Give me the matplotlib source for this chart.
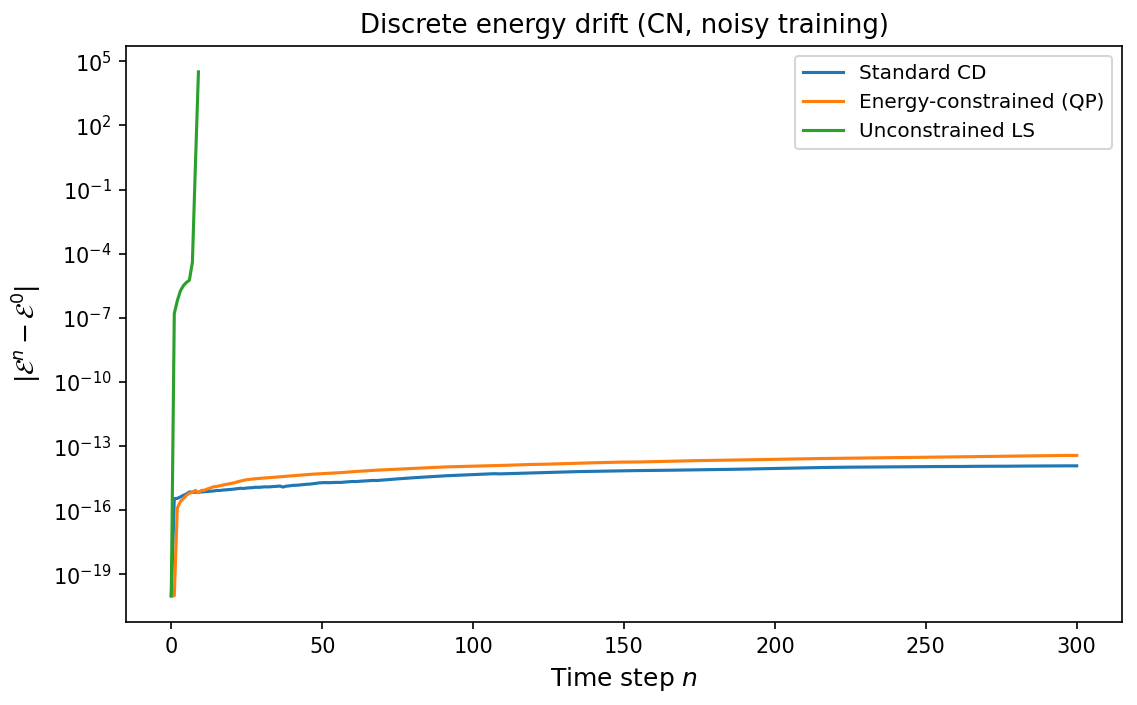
import numpy as np
import matplotlib
matplotlib.use("Agg")
import matplotlib.pyplot as plt
from matplotlib.ticker import FixedLocator, NullLocator, LogFormatterSciNotation

# values in units of 1e-15 (first entries are the 1e-20 floor)
standard_cd = [
    1e-5, 0.35, 0.36, 0.42, 0.50, 0.58, 0.72, 0.70, 0.70, 0.71,
    0.72, 0.74, 0.76, 0.78, 0.80, 0.85, 0.84, 0.88, 0.90, 0.92,
    0.95, 0.99, 1.03, 1.07, 1.05, 1.10, 1.12, 1.15, 1.20, 1.18,
    1.22, 1.25, 1.24, 1.26, 1.30, 1.32, 1.36, 1.22, 1.34, 1.38,
    1.45, 1.47, 1.50, 1.55, 1.60, 1.66, 1.68, 1.74, 1.82, 1.92,
    1.96, 1.98, 1.95, 1.97, 2.00, 2.02, 2.00, 2.05, 2.12, 2.18,
    2.22, 2.20, 2.26, 2.30, 2.35, 2.40, 2.45, 2.50, 2.46, 2.54,
    2.60, 2.66, 2.70, 2.76, 2.86, 2.95, 3.00, 3.08, 3.16, 3.24,
    3.30, 3.38, 3.45, 3.52, 3.60, 3.68, 3.76, 3.84, 3.92, 4.00,
    4.06, 4.12, 4.18, 4.25, 4.32, 4.40, 4.46, 4.52, 4.58, 4.64,
    4.70, 4.80, 4.88, 4.95, 5.02, 5.10, 5.12, 5.15, 5.10, 5.05,
    5.10, 5.18, 5.25, 5.30, 5.34, 5.38, 5.42, 5.46, 5.50, 5.55,
    5.62, 5.68, 5.70, 5.74, 5.80, 5.86, 5.92, 5.98, 6.04, 6.10,
    6.18, 6.24, 6.30, 6.35, 6.40, 6.46, 6.50, 6.55, 6.60, 6.64,
    6.68, 6.72, 6.76, 6.80, 6.84, 6.88, 6.92, 6.96, 7.00, 7.02,
    7.05, 7.08, 7.12, 7.15, 7.18, 7.20, 7.22, 7.25, 7.28, 7.30,
    7.33, 7.36, 7.40, 7.42, 7.45, 7.48, 7.50, 7.54, 7.58, 7.60,
    7.62, 7.66, 7.70, 7.74, 7.78, 7.82, 7.86, 7.90, 7.94, 7.98,
    8.02, 8.06, 8.10, 8.14, 8.18, 8.22, 8.26, 8.30, 8.32, 8.38,
    8.44, 8.50, 8.56, 8.62, 8.68, 8.74, 8.80, 8.86, 8.92, 8.98,
    9.05, 9.12, 9.18, 9.25, 9.32, 9.40, 9.46, 9.52, 9.58, 9.64,
    9.70, 9.76, 9.82, 9.88, 9.94, 10.0, 10.05, 10.1, 10.15, 10.2,
    10.25, 10.3, 10.32, 10.35, 10.38, 10.4, 10.42, 10.45, 10.48, 10.5,
    10.52, 10.55, 10.58, 10.6, 10.62, 10.65, 10.68, 10.7, 10.72, 10.75,
    10.78, 10.8, 10.82, 10.85, 10.88, 10.9, 10.92, 10.95, 10.98, 11.0,
    11.02, 11.05, 11.08, 11.1, 11.12, 11.15, 11.18, 11.2, 11.22, 11.25,
    11.2, 11.15, 11.2, 11.28, 11.32, 11.35, 11.38, 11.4, 11.42, 11.45,
    11.48, 11.5, 11.52, 11.55, 11.52, 11.48, 11.5, 11.55, 11.6, 11.62,
    11.65, 11.68, 11.7, 11.72, 11.75, 11.78, 11.8, 11.82, 11.84, 11.86,
    11.88, 11.9, 11.92, 11.94, 11.95, 11.96, 11.97, 11.98, 11.99, 12.0,
    12.0,
]

energy_qp = [
    1e-5, 1e-5, 0.126, 0.25, 0.35, 0.50, 0.63, 0.69, 0.85, 0.66,
    0.85, 0.87, 1.00, 1.10, 1.26, 1.30, 1.40, 1.50, 1.60, 1.70,
    1.80, 1.95, 2.15, 2.34, 2.50, 2.70, 2.80, 2.90, 3.00, 3.08,
    3.15, 3.22, 3.30, 3.40, 3.50, 3.60, 3.70, 3.80, 3.90, 4.00,
    4.10, 4.20, 4.30, 4.42, 4.55, 4.70, 4.80, 4.90, 5.00, 5.10,
    5.20, 5.28, 5.36, 5.45, 5.55, 5.65, 5.75, 5.90, 6.05, 6.20,
    6.35, 6.50, 6.65, 6.80, 6.95, 7.10, 7.25, 7.40, 7.52, 7.64,
    7.76, 7.88, 8.00, 8.12, 8.24, 8.36, 8.48, 8.60, 8.72, 8.85,
    9.00, 9.15, 9.30, 9.45, 9.60, 9.75, 9.90, 10.05, 10.2, 10.5,
    10.6, 10.7, 10.8, 10.9, 11.0, 11.1, 11.2, 11.3, 11.4, 11.5,
    11.6, 11.7, 11.8, 11.9, 12.0, 12.1, 12.2, 12.3, 12.4, 12.5,
    12.6, 12.7, 12.85, 13.0, 13.15, 13.3, 13.45, 13.6, 13.75, 13.9,
    14.0, 14.05, 14.1, 14.2, 14.3, 14.45, 14.6, 14.75, 14.9, 15.05,
    15.2, 15.35, 15.5, 15.65, 15.8, 15.95, 16.1, 16.25, 16.4, 16.55,
    16.7, 16.85, 17.0, 17.1, 17.2, 17.3, 17.45, 17.6, 17.75, 17.9,
    18.0, 18.05, 18.1, 18.15, 18.2, 18.2, 18.3, 18.45, 18.6, 18.75,
    18.9, 19.05, 19.2, 19.35, 19.5, 19.65, 19.8, 19.95, 20.1, 20.25,
    20.4, 20.55, 20.7, 20.85, 21.0, 21.1, 21.2, 21.3, 21.4, 21.5,
    21.6, 21.7, 21.8, 21.9, 22.0, 22.1, 22.2, 22.3, 22.4, 22.55,
    22.7, 22.85, 23.0, 23.15, 23.3, 23.45, 23.6, 23.75, 23.9, 24.05,
    24.2, 24.35, 24.5, 24.65, 24.8, 24.95, 25.1, 25.25, 25.4, 25.55,
    25.7, 25.85, 26.0, 26.1, 26.2, 26.3, 26.4, 26.5, 26.6, 26.75,
    26.85, 26.95, 27.05, 27.15, 27.25, 27.35, 27.45, 27.55, 27.65, 27.75,
    27.85, 27.95, 28.05, 28.15, 28.25, 28.35, 28.45, 28.55, 28.65, 28.75,
    28.85, 28.95, 29.05, 29.15, 29.25, 29.35, 29.45, 29.55, 29.65, 29.75,
    29.9, 30.05, 30.2, 30.35, 30.5, 30.65, 30.8, 30.95, 31.1, 31.25,
    31.4, 31.55, 31.7, 31.85, 32.0, 32.15, 32.3, 32.45, 32.6, 32.75,
    32.9, 33.05, 33.2, 33.35, 33.5, 33.65, 33.8, 33.95, 34.1, 34.25,
    34.4, 34.55, 34.7, 34.85, 35.0, 35.15, 35.3, 35.45, 35.6, 35.75,
    35.9, 36.05, 36.2, 36.35, 36.5, 36.6, 36.7, 36.8, 36.9, 37.0,
    37.0,
]
UNIT = 1e-15

unconstrained_ls = [1e-20, 1.6e-7, 6.3e-7, 1.8e-6, 3.2e-6, 4.5e-6, 5.8e-6, 4.0e-5, 1.4, 3.2e4]

labels = ["Standard CD", "Energy-constrained (QP)", "Unconstrained LS"]
ytick_exponents = [-19, -16, -13, -10, -7, -4, -1, 2, 5]

fig = plt.figure(figsize=(1137 / 150, 705 / 150), dpi=150)
ax = fig.add_axes([126 / 1137, 1 - 622 / 705, (1122 - 126) / 1137, (622 - 45.7) / 705])

cd = np.array(standard_cd) * UNIT
qp = np.array(energy_qp) * UNIT
ls = np.array(unconstrained_ls)

ax.plot(np.arange(len(cd)), cd, color="#1f77b4", lw=1.5, label=labels[0])
ax.plot(np.arange(len(qp)), qp, color="#ff7f0e", lw=1.5, label=labels[1])
ax.plot(np.arange(len(ls)), ls, color="#2ca02c", lw=1.5, label=labels[2])

ax.set_yscale("log")
ax.yaxis.set_major_locator(FixedLocator([10.0 ** e for e in ytick_exponents]))
ax.yaxis.set_major_formatter(LogFormatterSciNotation())
ax.yaxis.set_minor_locator(NullLocator())

ax.set_title("Discrete energy drift (CN, noisy training)", fontsize=12.5)
ax.set_xlabel("Time step $n$", fontsize=12)
ax.set_ylabel(r"$|\mathcal{E}^n - \mathcal{E}^0|$", fontsize=12)
ax.legend(loc="upper right", fontsize=9.6)

fig.savefig("out.png", dpi=150)
